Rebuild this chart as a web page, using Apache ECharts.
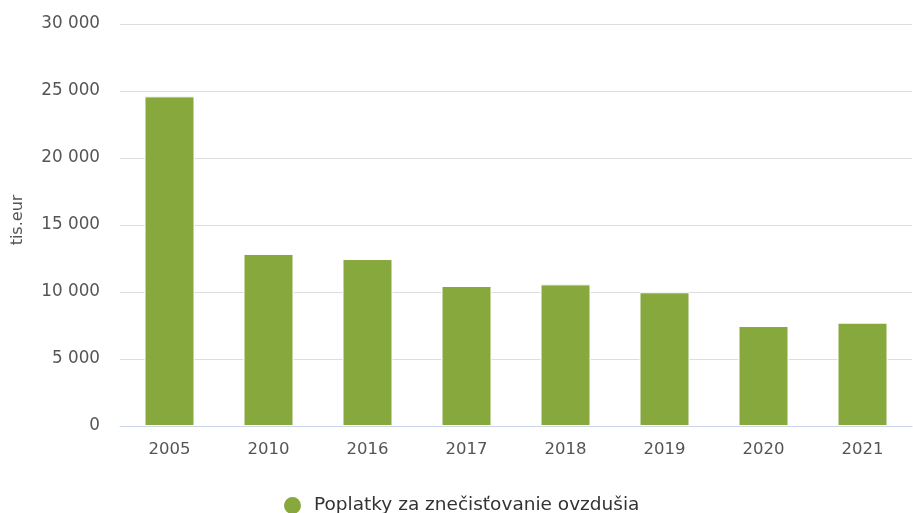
<!DOCTYPE html>
<html>
<head>
<meta charset="utf-8">
<script src="https://cdn.jsdelivr.net/npm/echarts@6/dist/echarts.min.js"></script>
<style>
  html, body { margin: 0; padding: 0; background: #fff; }
  #main { width: 913px; height: 513px; }
</style>
</head>
<body>
<div id="main"></div>
<script>
var years = ["2005", "2010", "2016", "2017", "2018", "2019", "2020", "2021"];
var poplatky = [24600, 12840, 12460, 10450, 10570, 9980, 7460, 7710];
var seriesName = "Poplatky za znečisťovanie ovzdušia";
var yTicks = [0, 5000, 10000, 15000, 20000, 25000, 30000];

var font = "'DejaVu Sans', Verdana, sans-serif";
var myChart = echarts.init(document.getElementById("main"));
var option = {
  backgroundColor: "#ffffff",
  animation: false,
  textStyle: { fontFamily: font },
  grid: {
    left: 120,
    right: 1,
    top: 24,
    bottom: 87,
    containLabel: false
  },
  legend: {
    bottom: -8,
    left: 277,
    icon: "circle",
    itemWidth: 19,
    itemHeight: 19,
    itemGap: 11,
    textStyle: { color: "#333333", fontSize: 18.5, fontFamily: font, padding: [0, 0, 0, 7] },
    data: [seriesName]
  },
  xAxis: {
    type: "category",
    data: years,
    axisLine: { show: true, lineStyle: { color: "#ccd6eb", width: 1 } },
    axisTick: { show: false },
    axisLabel: { color: "#555555", fontSize: 16.5, fontFamily: font, margin: 15 }
  },
  yAxis: {
    type: "value",
    min: yTicks[0],
    max: yTicks[yTicks.length - 1],
    interval: 5000,
    name: "tis.eur",
    nameLocation: "middle",
    nameGap: 94,
    nameTextStyle: { color: "#555555", fontSize: 16, fontFamily: font, padding: [0, 0, 0, 10] },
    axisLine: { show: false },
    axisTick: { show: false },
    splitLine: { lineStyle: { color: "#dddddd", width: 1 } },
    axisLabel: {
      color: "#555555",
      fontSize: 16.8,
      fontFamily: font,
      margin: 20,
      formatter: function (v) {
        return String(v).replace(/\B(?=(\d{3})+(?!\d))/g, " ");
      }
    }
  },
  series: [
    {
      name: seriesName,
      type: "bar",
      barWidth: 50,
      data: poplatky,
      itemStyle: {
        color: "#86a83c",
        borderColor: "#ffffff",
        borderWidth: 1
      }
    }
  ]
};
myChart.setOption(option);
</script>
</body>
</html>
